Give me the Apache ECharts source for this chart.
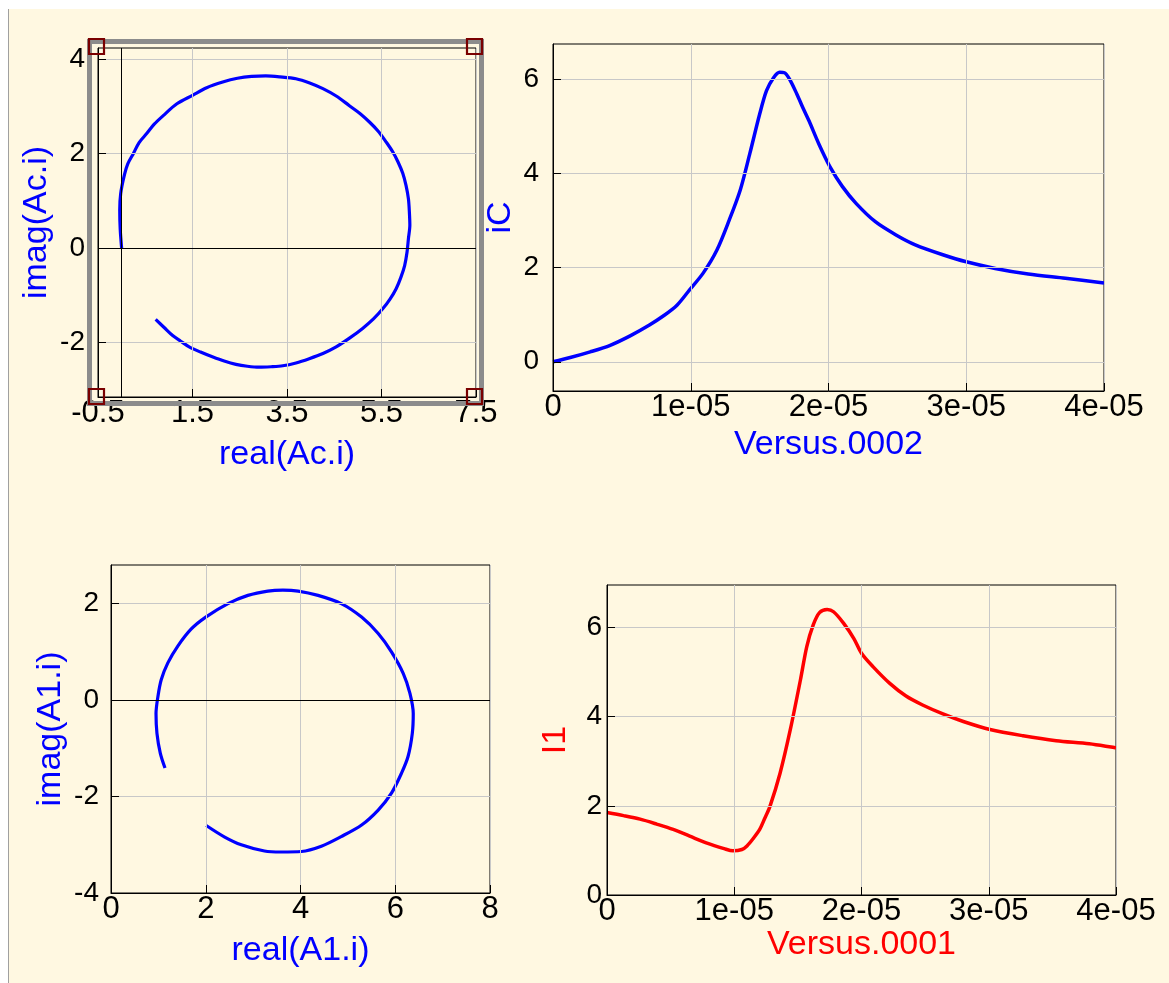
<!DOCTYPE html>
<html>
<head>
<meta charset="utf-8">
<script src="https://cdn.jsdelivr.net/npm/echarts@6/dist/echarts.min.js"></script>
<style>
  html, body { margin: 0; padding: 0; background: #ffffff; }
  #panel { position: absolute; left: 8px; top: 9px; width: 1161px; height: 974px; background: #FFF8E1; border-left: 1px solid #A0A0A0; box-sizing: border-box; }
  #chart { position: absolute; left: 0; top: 0; width: 1169px; height: 983px; }
</style>
</head>
<body>
<div id="panel"></div>
<div id="chart"></div>
<script>
// ---- Data ----
// Top-left: imag(Ac.i) vs real(Ac.i)
const acReal = [0.00, -0.03, -0.04, -0.02, 0.06, 0.13, 0.25, 0.37, 0.53, 0.69, 0.88, 1.17, 1.50, 1.80, 2.14, 2.45, 2.75, 3.05, 3.35, 3.69, 3.98, 4.26, 4.55, 4.82, 5.05, 5.25, 5.44, 5.60, 5.74, 5.85, 5.95, 6.02, 6.07, 6.09, 6.10, 6.07, 6.04, 5.99, 5.91, 5.81, 5.68, 5.53, 5.33, 5.10, 4.83, 4.54, 4.26, 3.97, 3.69, 3.41, 3.16, 2.91, 2.66, 2.42, 2.17, 1.92, 1.67, 1.43, 1.25, 1.08, 0.90, 0.72];
const acImag = [0.00, 0.40, 0.80, 1.15, 1.55, 1.78, 2.00, 2.23, 2.42, 2.62, 2.80, 3.05, 3.23, 3.39, 3.51, 3.59, 3.63, 3.64, 3.62, 3.58, 3.49, 3.37, 3.21, 3.01, 2.84, 2.66, 2.46, 2.24, 2.03, 1.82, 1.58, 1.32, 1.04, 0.76, 0.48, 0.20, -0.09, -0.37, -0.62, -0.86, -1.08, -1.28, -1.50, -1.70, -1.90, -2.09, -2.23, -2.34, -2.43, -2.49, -2.51, -2.52, -2.50, -2.46, -2.39, -2.30, -2.20, -2.09, -1.97, -1.85, -1.68, -1.51];
// Bottom-left: imag(A1.i) vs real(A1.i)
const a1Real = [1.14, 1.04, 0.97, 0.95, 0.99, 1.06, 1.20, 1.41, 1.69, 2.00, 2.47, 2.89, 3.31, 3.63, 3.95, 4.37, 4.86, 5.29, 5.64, 5.92, 6.17, 6.31, 6.38, 6.36, 6.27, 6.13, 5.92, 5.64, 5.29, 4.86, 4.44, 4.02, 3.59, 3.24, 2.75, 2.40, 2.01];
const a1Imag = [-1.41, -1.10, -0.69, -0.28, 0.07, 0.42, 0.77, 1.12, 1.47, 1.72, 2.00, 2.17, 2.26, 2.28, 2.26, 2.17, 2.00, 1.72, 1.38, 1.00, 0.55, 0.14, -0.28, -0.69, -1.17, -1.52, -1.93, -2.28, -2.59, -2.83, -3.03, -3.14, -3.15, -3.13, -3.00, -2.84, -2.60];
// Top-right: iC vs Versus.0002
const tIC = [0, 0.125e-5, 0.27e-5, 0.415e-5, 0.56e-5, 0.70e-5, 0.80e-5, 0.90e-5, 0.99e-5, 1.09e-5, 1.19e-5, 1.28e-5, 1.36e-5, 1.43e-5, 1.50e-5, 1.55e-5, 1.60e-5, 1.645e-5, 1.68e-5, 1.72e-5, 1.77e-5, 1.82e-5, 1.86e-5, 1.93e-5, 2.01e-5, 2.10e-5, 2.20e-5, 2.34e-5, 2.49e-5, 2.63e-5, 2.83e-5, 3.00e-5, 3.21e-5, 3.45e-5, 3.72e-5, 4.00e-5];
const iC = [0, 0.09, 0.21, 0.35, 0.55, 0.78, 0.97, 1.20, 1.52, 1.88, 2.37, 3.01, 3.65, 4.43, 5.25, 5.75, 6.02, 6.14, 6.13, 5.98, 5.68, 5.35, 5.10, 4.62, 4.14, 3.72, 3.36, 2.97, 2.69, 2.48, 2.27, 2.12, 1.98, 1.86, 1.77, 1.67];
// Bottom-right: I1 vs Versus.0001
const tI1 = [0, 0.13e-5, 0.26e-5, 0.39e-5, 0.52e-5, 0.65e-5, 0.78e-5, 0.92e-5, 0.99e-5, 1.06e-5, 1.10e-5, 1.15e-5, 1.20e-5, 1.24e-5, 1.28e-5, 1.36e-5, 1.44e-5, 1.52e-5, 1.57e-5, 1.62e-5, 1.67e-5, 1.73e-5, 1.78e-5, 1.86e-5, 1.94e-5, 2.00e-5, 2.09e-5, 2.22e-5, 2.35e-5, 2.48e-5, 2.64e-5, 2.80e-5, 3.01e-5, 3.27e-5, 3.53e-5, 3.79e-5, 4.00e-5];
const i1 = [1.85, 1.78, 1.70, 1.59, 1.47, 1.32, 1.17, 1.04, 0.99, 1.02, 1.10, 1.27, 1.47, 1.72, 1.98, 2.73, 3.70, 4.82, 5.57, 6.05, 6.33, 6.40, 6.35, 6.09, 5.75, 5.42, 5.12, 4.75, 4.46, 4.26, 4.06, 3.89, 3.71, 3.57, 3.46, 3.39, 3.30];
// Tick values
const acRealTicks = [-0.5, 1.5, 3.5, 5.5, 7.5];
const acImagTicks = [-2, 0, 2, 4];
const a1RealTicks = [0, 2, 4, 6, 8];
const a1ImagTicks = [-4, -2, 0, 2];
const timeTicks = [0, 1e-5, 2e-5, 3e-5, 4e-5];
const iCTicks = [0, 2, 4, 6];
const i1Ticks = [0, 2, 4, 6];

const zip = (a, b) => a.map((v, i) => [v, b[i]]);
const FONT = "'Liberation Sans', Arial, sans-serif";
const BLUE = '#0000FF', RED = '#FF0000';

function fmtExp(v) {
  if (Math.abs(v) < 1e-12) return '0';
  return v.toExponential(0).replace(/e([+-])(\d)$/, 'e$10$2');
}

function axis(gridIndex, isX, cfg) {
  const a = {
    gridIndex: gridIndex,
    type: 'value',
    min: cfg.min,
    max: cfg.max,
    name: cfg.name,
    nameLocation: 'middle',
    nameGap: cfg.nameGap,
    nameTextStyle: { color: cfg.nameColor, fontSize: 34, fontFamily: FONT },
    axisLine: { show: true, onZero: false, lineStyle: { color: '#000', width: 1 } },
    axisTick: { show: true, inside: true, length: 8, lineStyle: { color: '#000', width: 1 }, customValues: cfg.ticks },
    axisLabel: {
      color: '#000', fontSize: isX ? 31 : 28, fontFamily: FONT,
      margin: cfg.labelMargin, showMinLabel: true, showMaxLabel: true,
      customValues: cfg.ticks,
      formatter: cfg.formatter
    },
    splitLine: { show: true, lineStyle: { color: '#C8C8C8', width: 1 } },
    minorTick: { show: false },
    z: 5
  };
  if (!cfg.formatter) delete a.axisLabel.formatter;
  return a;
}

const zeroLines = (marks) => ({
  silent: true,
  symbol: ['none', 'none'],
  label: { show: false },
  lineStyle: { color: '#000', type: 'solid', width: 1 },
  animation: false,
  data: marks
});

const grids = [
  { left: 98, top: 48, width: 378, height: 349 },
  { left: 553, top: 44, width: 551, height: 347 },
  { left: 111, top: 565, width: 379, height: 328 },
  { left: 607, top: 585, width: 509, height: 310 }
].map(g => Object.assign({ show: true, borderColor: '#000', borderWidth: 1, backgroundColor: 'transparent', containLabel: false }, g));

const option = {
  backgroundColor: 'transparent',
  animation: false,
  textStyle: { fontFamily: FONT },
  grid: grids,
  xAxis: [
    axis(0, true, { min: -0.5, max: 7.5, ticks: acRealTicks, name: 'real(Ac.i)', nameGap: 41, nameColor: BLUE, labelMargin: 1 }),
    axis(1, true, { min: 0, max: 4e-5, ticks: timeTicks, name: 'Versus.0002', nameGap: 37, nameColor: BLUE, formatter: fmtExp, labelMargin: 1 }),
    axis(2, true, { min: 0, max: 8, ticks: a1RealTicks, name: 'real(A1.i)', nameGap: 41, nameColor: BLUE, labelMargin: 1 }),
    axis(3, true, { min: 0, max: 4e-5, ticks: timeTicks, name: 'Versus.0001', nameGap: 33, nameColor: RED, formatter: fmtExp, labelMargin: 1 })
  ],
  yAxis: [
    axis(0, false, { min: -3.15, max: 4.23, ticks: acImagTicks, name: 'imag(Ac.i)', nameGap: 44, nameColor: BLUE, labelMargin: 13 }),
    axis(1, false, { min: -0.62, max: 6.74, ticks: iCTicks, name: 'iC', nameGap: 35, nameColor: BLUE, labelMargin: 14 }),
    axis(2, false, { min: -4, max: 2.8, ticks: a1ImagTicks, name: 'imag(A1.i)', nameGap: 43, nameColor: BLUE, labelMargin: 12 }),
    axis(3, false, { min: 0, max: 6.95, ticks: i1Ticks, name: 'I1', nameGap: 34, nameColor: RED, labelMargin: 5 })
  ],
  series: [
    {
      type: 'line', xAxisIndex: 0, yAxisIndex: 0, data: zip(acReal, acImag),
      smooth: 0.3, showSymbol: false, lineStyle: { color: BLUE, width: 3.2 },
      markLine: zeroLines([{ xAxis: 0 }, { yAxis: 0 }])
    },
    {
      type: 'line', xAxisIndex: 1, yAxisIndex: 1, data: zip(tIC, iC),
      smooth: 0.3, showSymbol: false, lineStyle: { color: BLUE, width: 3.5 }
    },
    {
      type: 'line', xAxisIndex: 2, yAxisIndex: 2, data: zip(a1Real, a1Imag),
      smooth: 0.3, showSymbol: false, lineStyle: { color: BLUE, width: 3.2 },
      markLine: zeroLines([{ yAxis: 0 }])
    },
    {
      type: 'line', xAxisIndex: 3, yAxisIndex: 3, data: zip(tI1, i1),
      smooth: 0.3, showSymbol: false, lineStyle: { color: RED, width: 3.5 }
    }
  ],
  graphic: [
    { type: 'rect', silent: true, z: 100, shape: { x: 89.5, y: 41.5, width: 392, height: 362 }, style: { fill: 'none', stroke: '#8C8C8C', lineWidth: 5 } },
    { type: 'rect', silent: true, z: 101, shape: { x: 89, y: 39, width: 15, height: 15 }, style: { fill: 'none', stroke: '#7A0000', lineWidth: 2.2 } },
    { type: 'rect', silent: true, z: 101, shape: { x: 467, y: 39, width: 15, height: 15 }, style: { fill: 'none', stroke: '#7A0000', lineWidth: 2.2 } },
    { type: 'rect', silent: true, z: 101, shape: { x: 89, y: 389, width: 15, height: 15 }, style: { fill: 'none', stroke: '#7A0000', lineWidth: 2.2 } },
    { type: 'rect', silent: true, z: 101, shape: { x: 467, y: 389, width: 15, height: 15 }, style: { fill: 'none', stroke: '#7A0000', lineWidth: 2.2 } }
  ]
};

const chart = echarts.init(document.getElementById('chart'), null, { renderer: 'canvas' });
chart.setOption(option);
</script>
</body>
</html>
